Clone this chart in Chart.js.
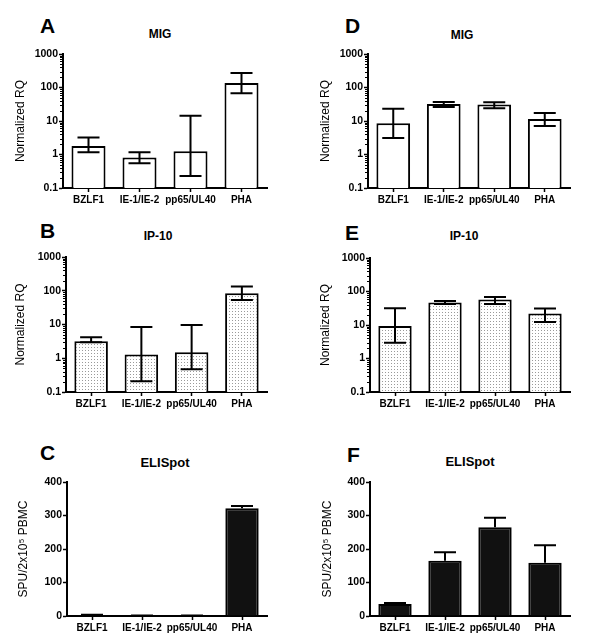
<!DOCTYPE html>
<html><head><meta charset="utf-8">
<script src="https://cdn.jsdelivr.net/npm/chart.js@4/dist/chart.umd.min.js"></script>
<style>
body{margin:0;background:#fff;width:600px;height:643px;position:relative;overflow:hidden;font-family:"Liberation Sans",Arial,sans-serif;color:#000}
canvas{position:absolute}
.lbl{position:absolute;font-weight:bold;font-size:21px;line-height:1}
.ttl{position:absolute;font-weight:bold;font-size:12px;line-height:1;width:120px;text-align:center}
</style></head><body>
<div class="lbl" style="left:40px;top:15px">A</div>
<div class="lbl" style="left:345px;top:15px">D</div>
<div class="lbl" style="left:40px;top:220px">B</div>
<div class="lbl" style="left:345px;top:222px">E</div>
<div class="lbl" style="left:40px;top:442px">C</div>
<div class="lbl" style="left:347px;top:444px">F</div>
<div class="ttl" style="left:100px;top:28px">MIG</div>
<div class="ttl" style="left:402px;top:29px">MIG</div>
<div class="ttl" style="left:98px;top:230px">IP-10</div>
<div class="ttl" style="left:404px;top:230px">IP-10</div>
<div class="ttl" style="left:105px;top:456px;font-size:13px">ELISpot</div>
<div class="ttl" style="left:410px;top:455px;font-size:13px">ELISpot</div>
<canvas id="cA"></canvas><canvas id="cB"></canvas><canvas id="cC"></canvas>
<canvas id="cD"></canvas><canvas id="cE"></canvas><canvas id="cF"></canvas>
<script>
// ---- data ----
const categories = ['BZLF1', 'IE-1/IE-2', 'pp65/UL40', 'PHA'];
const logTicks = [0.1, 1, 10, 100, 1000];
const linTicks = [0, 100, 200, 300, 400];

const migA = [1.8, 0.82, 1.25, 136];
const migAHigh = [3.2, 1.16, 14.4, 271];
const migALow = [1.16, 0.55, 0.23, 67];

const ip10B = [3.2, 1.3, 1.5, 85];
const ip10BHigh = [4.2, 8.4, 9.7, 133];
const ip10BLow = [3.0, 0.21, 0.47, 53];

const elispotC = [3, 1, 1, 322];
const elispotCHigh = [4, 1.5, 1.5, 328];

const migD = [8.5, 32, 31, 11.4];
const migDHigh = [23.3, 36.9, 36, 17.3];
const migDLow = [3.1, 26, 23.9, 7.1];

const ip10E = [9.3, 46.6, 57.5, 22];
const ip10EHigh = [31.6, 52, 69, 31];
const ip10ELow = [2.95, 42, 42, 12.3];

const elispotF = [36, 165, 265, 159];
const elispotFHigh = [39, 190, 293, 211];

const RQ = 'Normalized RQ';
const SPU = 'SPU/2x10\u2075 PBMC';

// ---- styles ----
const FONT = '"Liberation Sans", Arial, sans-serif';
function stipple(){
  const c = document.createElement('canvas'); c.width = 3; c.height = 3;
  const x = c.getContext('2d');
  x.fillStyle = '#fff'; x.fillRect(0,0,3,3);
  x.fillStyle = '#9a9a9a'; x.fillRect(1,1,1,1);
  return x.createPattern(c, 'repeat');
}
const DOTS = stipple();

const errbars = {
  id: 'errbars',
  afterDatasetsDraw(chart, args, opts){
    if (!opts || !opts.hi) return;
    const meta = chart.getDatasetMeta(0), y = chart.scales.y, ctx = chart.ctx;
    ctx.save(); ctx.strokeStyle = '#000'; ctx.lineWidth = 2;
    meta.data.forEach((bar, i) => {
      const x = bar.x;
      const yt = y.getPixelForValue(opts.hi[i]);
      const yb = opts.lo ? y.getPixelForValue(opts.lo[i]) : bar.y;
      ctx.beginPath();
      ctx.moveTo(x, yt); ctx.lineTo(x, yb);
      ctx.moveTo(x - opts.cap, yt); ctx.lineTo(x + opts.cap, yt);
      if (opts.lo){ ctx.moveTo(x - opts.cap, yb); ctx.lineTo(x + opts.cap, yb); }
      ctx.stroke();
    });
    ctx.restore();
  }
};
const minorTicks = {
  id: 'minorTicks',
  afterDraw(chart){
    const y = chart.scales.y;
    if (y.type !== 'logarithmic') return;
    const ctx = chart.ctx; ctx.save(); ctx.strokeStyle = '#000'; ctx.lineWidth = 1;
    const x0 = y.right;
    logTicks.slice(0, -1).forEach(d => {
      for (let k = 2; k <= 9; k++){
        const py = Math.round(y.getPixelForValue(d * k)) + 0.5;
        ctx.beginPath(); ctx.moveTo(x0 - 3, py); ctx.lineTo(x0, py); ctx.stroke();
      }
    });
    ctx.restore();
  }
};
Chart.register(errbars, minorTicks);

const panels = [
  {id:'cA', v:migA, hi:migAHigh, lo:migALow, log:true, fill:'#fff', t:RQ, tp:13, left:0, top:44, yW:63, rp:33, h:134},
  {id:'cB', v:ip10B, hi:ip10BHigh, lo:ip10BLow, log:true, fill:DOTS, t:RQ, tp:13, left:0, top:247, yW:66, rp:33, h:135},
  {id:'cC', v:elispotC, hi:elispotCHigh, lo:null, log:false, fill:'#111', t:SPU, tp:16, left:0, top:472, yW:67, rp:33, h:134},
  {id:'cD', v:migD, hi:migDHigh, lo:migDLow, log:true, fill:'#fff', t:RQ, tp:18, left:300, top:44, yW:68, rp:30, h:134},
  {id:'cE', v:ip10E, hi:ip10EHigh, lo:ip10ELow, log:true, fill:DOTS, t:RQ, tp:18, left:300, top:248, yW:70, rp:30, h:134},
  {id:'cF', v:elispotF, hi:elispotFHigh, lo:null, log:false, fill:'#111', t:SPU, tp:20, left:300, top:472, yW:70, rp:30, h:134}
];

panels.forEach(p => {
  const cv = document.getElementById(p.id);
  const H = 10 + p.h + 24;
  cv.width = 300; cv.height = H;
  cv.style.left = p.left + 'px'; cv.style.top = p.top + 'px';
  cv.style.width = '300px'; cv.style.height = H + 'px';
  const tickVals = p.log ? logTicks : linTicks;
  new Chart(cv, {
    type: 'bar',
    data: { labels: categories, datasets: [{
      data: p.v, backgroundColor: p.fill, borderColor: '#000', borderWidth: 2,
      barPercentage: 0.667, categoryPercentage: 1, borderSkipped: 'bottom'
    }]},
    options: {
      responsive: false, animation: false, devicePixelRatio: 1,
      layout: { padding: { top: 10, right: p.rp, left: 0, bottom: 0 } },
      plugins: {
        legend: { display: false }, tooltip: { enabled: false },
        errbars: { hi: p.hi, lo: p.lo, cap: 11 }
      },
      scales: {
        x: {
          type: 'category', offset: true,
          grid: { display: true, drawOnChartArea: false, offset: false, tickLength: 4, tickColor: '#000', tickWidth: 1.5 },
          border: { display: true, color: '#000', width: 2 },
          ticks: { color: '#000', font: { family: FONT, size: 10, weight: 'bold' }, padding: 2, maxRotation: 0, autoSkip: false },
          afterFit(s){ s.height = 24; }
        },
        y: {
          type: p.log ? 'logarithmic' : 'linear',
          min: tickVals[0], max: tickVals[tickVals.length - 1],
          afterBuildTicks(s){ s.ticks = tickVals.map(v => ({ value: v })); },
          grid: { display: true, drawOnChartArea: false, tickLength: 4, tickColor: '#000', tickWidth: 1.5 },
          border: { display: true, color: '#000', width: 2 },
          ticks: { color: '#000', font: { family: FONT, size: 10.5, weight: 'bold' }, padding: 1, callback: v => String(v) },
          title: { display: true, text: p.t, color: '#000', font: { family: FONT, size: 12 }, padding: { top: p.tp, bottom: 0 } },
          afterFit(s){ s.width = p.yW; }
        }
      }
    }
  });
});
</script>
</body></html>
